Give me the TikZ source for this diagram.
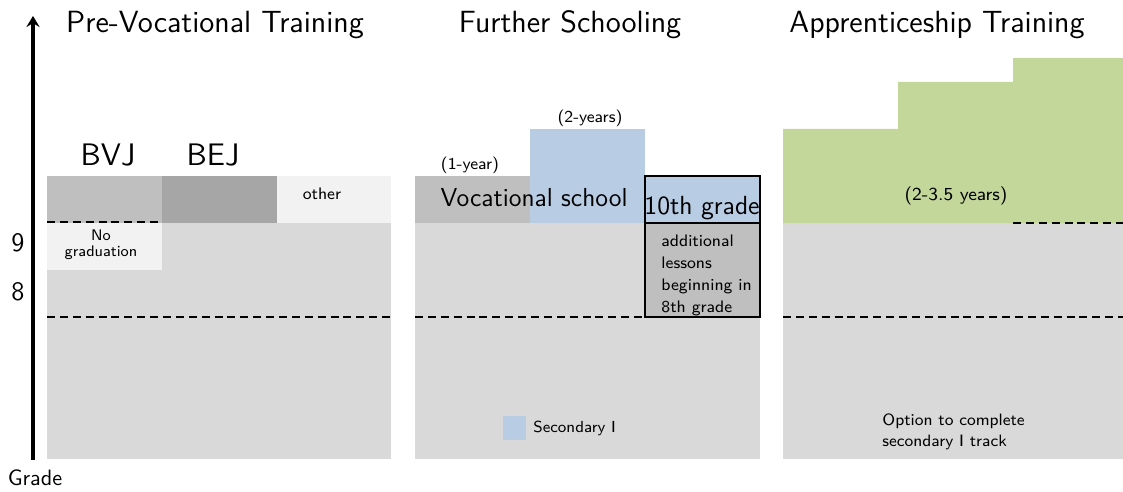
\documentclass[tikz,border=0pt]{standalone}
\usetikzlibrary{arrows.meta}
\renewcommand{\familydefault}{\sfdefault}
\definecolor{bg}{HTML}{D9D9D9}
\definecolor{mid}{HTML}{BFBFBF}
\definecolor{dark}{HTML}{A6A6A6}
\definecolor{light}{HTML}{F2F2F2}
\definecolor{blue}{HTML}{B8CCE4}
\definecolor{green}{HTML}{C4D79B}
\begin{document}
\begin{tikzpicture}[x=0.45pt,y=-0.45pt,
  dashln/.style={dash pattern=on 3.6pt off 2.2pt, line width=0.5pt},
  title/.style={font=\fontsize{13.8}{16}\selectfont},
  small/.style={font=\fontsize{7.5}{9.9}\selectfont, inner sep=0pt},
  bordered/.style={draw=black, line width=0.5pt}]
\useasboundingbox (0,0) rectangle (1123,492);
% panel backgrounds
\fill[bg] (47,223) rectangle (391,459);
\fill[bg] (415,223) rectangle (760,459);
\fill[bg] (783,223) rectangle (1123,459);
% panel 1
\fill[mid] (47,176) rectangle (162,223);
\fill[dark] (162,176) rectangle (277,223);
\fill[light] (277,176) rectangle (391,223);
\fill[light] (47,223) rectangle (162,270);
\draw[dashln] (47,222) -- (162,222);
\draw[dashln] (47,317) -- (391,317);
% panel 2
\fill[mid] (415,176) rectangle (530,223);
\fill[blue] (530,129) rectangle (645,223);
\draw[dashln] (415,317) -- (645,317);
\filldraw[fill=blue, bordered] (645,176) rectangle (760,223);
\filldraw[fill=mid, bordered] (645,223) rectangle (760,317);
\fill[blue] (503,416) rectangle (526,440);
% panel 3
\fill[green] (783,129) -- (898,129) -- (898,82) -- (1013,82) -- (1013,58) -- (1123,58) -- (1123,223) -- (783,223) -- cycle;
\draw[dashln] (1013,223) -- (1123,223);
\draw[dashln] (783,317) -- (1123,317);
% axis
\coordinate (axbot) at (33,460);
\coordinate (axtop) at (33,16);
\draw[line width=1.5pt, -{Stealth[length=5pt,width=6pt,inset=1.8pt]}] (axbot) -- (axtop);
% texts
\node (grade) at (35,478) {Grade};
\node[font=\large] (g9) at (18,243) {9};
\node[font=\large] (g8) at (18,292) {8};
\node[title] (t1) at (215,25) {Pre-Vocational Training};
\node[title] (t2) at (570,25) {Further Schooling};
\node[title] (t3) at (937,25) {Apprenticeship Training};
\node[font=\fontsize{14}{16}\selectfont] (bvj) at (108,155) {BVJ};
\node[font=\fontsize{14}{16}\selectfont] (bej) at (213,155) {BEJ};
\node[small] (other) at (322,194) {other};
\node[small, font=\fontsize{6.9}{7.3}\selectfont, align=center] (nograd) at (101,245) {No\\graduation};
\node[small] (y1) at (470,165) {(1-year)};
\node[small] (y2) at (590,118) {(2-years)};
\node[font=\fontsize{11.7}{14}\selectfont] (vs) at (534,198) {Vocational school};
\node[font=\fontsize{11.8}{14}\selectfont] (g10) at (702,208) {10th grade};
\node[small, align=left, anchor=north west] (add) at (661,234) {additional\\lessons\\beginning in\\8th grade};
\node[small, font=\fontsize{7.2}{9}\selectfont, anchor=west] (sec) at (533,428) {Secondary I};
\node[font=\fontsize{8.25}{10}\selectfont] (y35) at (956,196) {(2-3.5 years)};
\node[small, font=\fontsize{7.4}{9.2}\selectfont, align=left, anchor=west] (opt) at (882,432) {Option to complete\\secondary I track};
\end{tikzpicture}
\end{document}
